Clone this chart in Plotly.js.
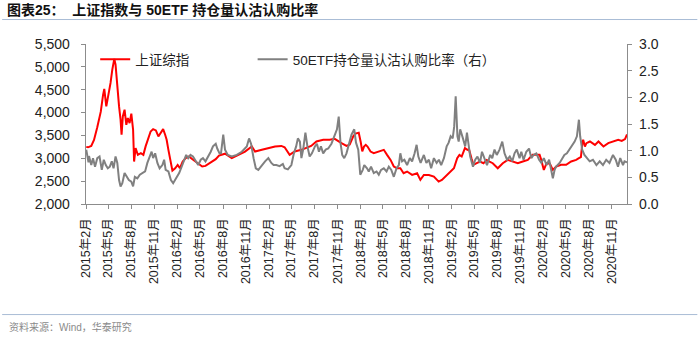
<!DOCTYPE html>
<html>
<head>
<meta charset="utf-8">
<script src="https://cdn.plot.ly/plotly-3.0.1.min.js"></script>
<style>html,body{margin:0;padding:0;background:#fff;}#chart{width:700px;height:338px;}</style>
</head>
<body>
<div id="chart"></div>
<script>
// 上证综指 (left axis)
const redDates = ["2015-02-02","2015-02-09","2015-02-22","2015-03-05","2015-03-18","2015-04-01","2015-04-10","2015-04-15","2015-04-23","2015-05-01","2015-05-10","2015-05-17","2015-05-25","2015-05-30","2015-06-06","2015-06-13","2015-06-19","2015-06-23","2015-06-28","2015-07-05","2015-07-12","2015-07-18","2015-07-25","2015-08-01","2015-08-08","2015-08-12","2015-08-18","2015-08-27","2015-09-08","2015-09-18","2015-09-27","2015-10-07","2015-10-17","2015-10-27","2015-11-07","2015-11-17","2015-11-27","2015-12-06","2015-12-14","2015-12-20","2015-12-27","2016-01-03","2016-01-12","2016-01-23","2016-02-02","2016-02-11","2016-02-22","2016-03-05","2016-03-18","2016-04-01","2016-04-14","2016-04-27","2016-05-10","2016-05-23","2016-06-07","2016-06-20","2016-07-03","2016-07-16","2016-08-09","2016-09-05","2016-10-01","2016-10-28","2016-11-24","2016-12-07","2017-01-03","2017-01-29","2017-02-25","2017-03-22","2017-04-04","2017-04-24","2017-05-14","2017-06-10","2017-06-30","2017-07-19","2017-08-09","2017-09-05","2017-10-01","2017-10-21","2017-11-17","2017-12-07","2017-12-20","2018-01-03","2018-01-12","2018-01-25","2018-02-02","2018-02-08","2018-02-15","2018-02-22","2018-03-01","2018-03-13","2018-03-26","2018-04-15","2018-05-05","2018-05-18","2018-06-01","2018-06-14","2018-06-27","2018-07-10","2018-07-23","2018-08-06","2018-08-26","2018-09-15","2018-09-28","2018-10-12","2018-11-01","2018-11-21","2018-12-10","2018-12-23","2019-01-13","2019-01-26","2019-02-09","2019-02-22","2019-03-03","2019-03-12","2019-03-25","2019-04-04","2019-04-10","2019-04-20","2019-04-28","2019-05-11","2019-05-24","2019-06-07","2019-06-20","2019-07-01","2019-07-14","2019-08-03","2019-08-23","2019-09-12","2019-10-02","2019-10-22","2019-11-11","2019-12-01","2019-12-20","2020-01-04","2020-01-17","2020-01-23","2020-02-03","2020-02-14","2020-02-27","2020-03-10","2020-03-23","2020-04-12","2020-05-02","2020-05-22","2020-06-11","2020-06-22","2020-06-30","2020-07-06","2020-07-09","2020-07-16","2020-07-22","2020-08-05","2020-08-25","2020-09-08","2020-09-28","2020-10-17","2020-11-07","2020-11-26","2020-12-10","2020-12-23","2020-12-31"];
const redValues = [3250,3240,3270,3400,3680,4020,4380,4516,4135,4355,4648,4940,5175,5050,4501,4135,3843,3514,3916,4062,3733,3880,3770,3975,3624,2929,3222,3075,3112,3075,3260,3440,3587,3638,3609,3477,3550,3638,3514,3404,3185,2965,2731,2782,2856,2782,2929,3002,3039,2980,2929,2878,2820,2834,2892,2929,2980,3060,3100,3002,3075,3148,3257,3148,3185,3221,3257,3270,3240,3075,3148,3185,3221,3270,3367,3404,3404,3426,3331,3270,3300,3480,3540,3560,3350,3150,3257,3294,3257,3148,3112,3148,3185,3075,2965,2820,2782,2782,2673,2710,2636,2673,2527,2636,2636,2600,2490,2527,2636,2710,2782,3002,3075,3039,3222,3185,3200,3002,2856,2892,2929,2892,2965,2929,2892,2782,2892,2965,2929,2892,2929,2965,3075,3075,3075,2976,2746,2892,2880,2746,2820,2856,2856,2929,2965,3002,3025,3350,3404,3257,3330,3367,3294,3367,3257,3331,3367,3404,3380,3420,3520];

// 50ETF持仓量认沽认购比率 (right axis)
const grayDates = ["2015-02-02","2015-02-06","2015-02-11","2015-02-13","2015-02-17","2015-02-22","2015-03-01","2015-03-09","2015-03-18","2015-03-27","2015-04-05","2015-04-13","2015-04-21","2015-04-29","2015-05-07","2015-05-15","2015-05-22","2015-05-30","2015-06-06","2015-06-13","2015-06-19","2015-06-26","2015-07-05","2015-07-13","2015-07-22","2015-08-01","2015-08-08","2015-08-15","2015-08-25","2015-09-04","2015-09-14","2015-09-25","2015-10-04","2015-10-13","2015-10-21","2015-10-27","2015-11-04","2015-11-13","2015-11-22","2015-12-03","2015-12-10","2015-12-16","2015-12-27","2016-01-06","2016-01-15","2016-01-26","2016-02-08","2016-02-18","2016-02-27","2016-03-07","2016-03-15","2016-03-24","2016-04-03","2016-04-14","2016-04-24","2016-05-04","2016-05-13","2016-05-23","2016-06-04","2016-06-13","2016-06-22","2016-07-03","2016-07-09","2016-07-18","2016-07-24","2016-08-02","2016-08-09","2016-08-20","2016-09-05","2016-09-25","2016-10-15","2016-11-04","2016-11-13","2016-11-21","2016-12-01","2016-12-10","2016-12-20","2017-01-03","2017-01-16","2017-01-29","2017-02-10","2017-02-19","2017-03-02","2017-03-15","2017-03-28","2017-04-04","2017-04-17","2017-05-01","2017-05-11","2017-05-20","2017-05-27","2017-06-04","2017-06-10","2017-06-17","2017-06-26","2017-07-04","2017-07-13","2017-07-22","2017-08-03","2017-08-11","2017-08-19","2017-08-27","2017-09-05","2017-09-15","2017-09-25","2017-10-08","2017-10-21","2017-10-30","2017-11-06","2017-11-13","2017-11-20","2017-11-28","2017-12-07","2017-12-16","2017-12-27","2018-01-07","2018-01-14","2018-01-23","2018-01-31","2018-02-10","2018-02-16","2018-02-27","2018-03-06","2018-03-15","2018-03-26","2018-04-06","2018-04-15","2018-04-24","2018-05-05","2018-05-16","2018-05-25","2018-06-04","2018-06-14","2018-06-25","2018-07-04","2018-07-10","2018-07-17","2018-07-26","2018-08-06","2018-08-17","2018-08-26","2018-09-05","2018-09-13","2018-09-20","2018-09-29","2018-10-12","2018-10-22","2018-11-01","2018-11-10","2018-11-21","2018-12-02","2018-12-11","2018-12-20","2018-12-31","2019-01-11","2019-01-19","2019-01-27","2019-02-04","2019-02-10","2019-02-16","2019-02-23","2019-02-28","2019-03-06","2019-03-17","2019-03-26","2019-04-02","2019-04-09","2019-04-15","2019-04-26","2019-05-05","2019-05-14","2019-05-24","2019-06-01","2019-06-10","2019-06-21","2019-07-04","2019-07-12","2019-07-21","2019-07-30","2019-08-10","2019-08-21","2019-08-30","2019-09-09","2019-09-20","2019-09-30","2019-10-09","2019-10-18","2019-10-29","2019-11-05","2019-11-14","2019-11-25","2019-12-06","2019-12-15","2019-12-24","2020-01-04","2020-01-15","2020-01-24","2020-02-03","2020-02-14","2020-02-24","2020-03-03","2020-03-10","2020-03-17","2020-03-23","2020-04-06","2020-04-16","2020-04-25","2020-05-05","2020-05-15","2020-05-26","2020-06-05","2020-06-14","2020-06-22","2020-06-27","2020-07-05","2020-07-14","2020-07-24","2020-08-04","2020-08-17","2020-08-31","2020-09-13","2020-09-26","2020-10-09","2020-10-22","2020-11-05","2020-11-16","2020-11-25","2020-12-04","2020-12-15","2020-12-21","2020-12-31"];
const grayValues = [1.02,0.92,0.78,0.90,0.83,0.73,0.86,0.70,0.86,0.89,0.64,0.83,0.73,0.67,0.70,0.80,0.67,0.89,0.77,0.45,0.33,0.39,0.58,0.51,0.45,0.42,0.33,0.51,0.48,0.55,0.58,0.61,0.77,0.89,0.98,0.86,0.95,0.77,0.67,0.73,0.83,0.64,0.61,0.45,0.39,0.48,0.58,0.70,0.80,0.92,0.86,0.92,0.89,0.80,0.73,0.83,0.86,0.80,0.89,0.98,1.08,1.13,1.04,0.95,0.95,1.30,1.02,0.92,0.89,0.92,0.98,1.08,1.23,1.13,0.86,0.67,0.64,0.73,0.80,0.86,0.77,0.73,0.73,0.71,0.75,0.67,0.65,0.73,0.95,1.08,1.23,1.17,0.86,1.02,1.34,1.08,0.89,0.95,1.08,1.13,0.98,1.08,0.95,1.02,1.04,1.13,1.27,1.40,1.64,1.15,0.92,0.86,0.95,1.13,1.30,1.40,1.15,1.02,0.55,0.64,0.73,0.67,0.61,0.70,0.58,0.61,0.55,0.64,0.67,0.61,0.70,0.64,0.51,0.67,0.73,0.95,0.80,0.83,0.73,0.86,0.80,0.95,1.11,0.89,0.77,0.92,0.77,0.83,0.67,0.86,0.77,0.83,0.73,0.86,1.08,1.15,1.27,1.23,1.45,2.02,1.27,1.17,1.40,1.23,1.08,1.34,1.13,0.89,0.70,0.83,0.89,0.77,0.98,0.86,0.73,0.92,0.86,1.02,0.92,1.02,1.17,0.95,0.83,0.89,0.80,0.95,1.02,0.86,0.98,0.83,0.98,1.04,0.86,0.92,0.95,0.83,0.77,0.86,0.73,0.83,0.64,0.48,0.64,0.70,0.77,0.86,0.92,0.95,1.02,1.11,1.17,1.27,1.58,1.27,1.02,0.92,0.86,0.80,0.83,0.73,0.80,0.73,0.83,0.77,0.92,0.83,0.70,0.86,0.73,0.80,0.78];

const tickDates = ["2015-02-01","2015-05-01","2015-08-01","2015-11-01","2016-02-01","2016-05-01","2016-08-01","2016-11-01","2017-02-01","2017-05-01","2017-08-01","2017-11-01","2018-02-01","2018-05-01","2018-08-01","2018-11-01","2019-02-01","2019-05-01","2019-08-01","2019-11-01","2020-02-01","2020-05-01","2020-08-01","2020-11-01"];
const tickLabels = ["2015年2月","2015年5月","2015年8月","2015年11月","2016年2月","2016年5月","2016年8月","2016年11月","2017年2月","2017年5月","2017年8月","2017年11月","2018年2月","2018年5月","2018年8月","2018年11月","2019年2月","2019年5月","2019年8月","2019年11月","2020年2月","2020年5月","2020年8月","2020年11月"];

const seriesNames = ["上证综指", "50ETF持仓量认沽认购比率（右）"];
const titleText = "<b>图表25：  上证指数与 50ETF 持仓量认沽认购比率</b>";
const sourceText = "资料来源：Wind，华泰研究";

const FONT = "'Liberation Sans', Arial, 'Noto Sans CJK SC', sans-serif";
const AXC = "#8c8c8c";
const legendFont = {family: FONT, size: 13.5, color: "#222"};

const traces = [
  {x: redDates, y: redValues, name: seriesNames[0], type: "scatter", mode: "lines",
   line: {color: "#ff0000", width: 2}, yaxis: "y", legend: "legend"},
  {x: grayDates, y: grayValues, name: seriesNames[1], type: "scatter", mode: "lines",
   line: {color: "#808080", width: 2}, yaxis: "y2", legend: "legend2"}
];

const layout = {
  width: 700, height: 338,
  margin: {l: 86, r: 73, t: 44, b: 134, pad: 0},
  paper_bgcolor: "#fff", plot_bgcolor: "#fff",
  font: {family: FONT, color: "#222"},
  title: {text: titleText, font: {family: FONT, size: 14, color: "#111"},
          xref: "container", yref: "container", x: 0.01, xanchor: "left", y: 0.97, yanchor: "middle"},
  showlegend: true,
  legend: {orientation: "h", x: 0.017, xanchor: "left", y: 1.0, yanchor: "top",
           font: legendFont, bgcolor: "rgba(0,0,0,0)"},
  legend2: {orientation: "h", x: 0.308, xanchor: "left", y: 1.0, yanchor: "top",
           font: legendFont, bgcolor: "rgba(0,0,0,0)"},
  xaxis: {type: "date", range: ["2015-02-01", "2020-12-31"], tickmode: "array",
          tickvals: tickDates, ticktext: tickLabels, tickangle: -90,
          ticks: "outside", ticklen: 4, tickcolor: AXC, tickwidth: 1,
          showline: true, linecolor: AXC, linewidth: 1.3, showgrid: false, zeroline: false,
          tickfont: {family: FONT, size: 12.5, color: "#222"}, ticklabelstandoff: 4},
  yaxis: {range: [2000, 5500], dtick: 500, tickformat: ",", ticks: "outside", ticklen: 4,
          tickcolor: AXC, showline: true, linecolor: AXC, linewidth: 1.3, showgrid: false, zeroline: false,
          tickfont: {family: FONT, size: 14, color: "#222"}, ticklabelstandoff: 8},
  yaxis2: {range: [0, 3], dtick: 0.5, tickformat: ".1f", overlaying: "y", side: "right",
           ticks: "outside", ticklen: 4, tickcolor: AXC, showline: true, linecolor: AXC, linewidth: 1.3,
           showgrid: false, zeroline: false,
           tickfont: {family: FONT, size: 14, color: "#222"}, ticklabelstandoff: 4},
  shapes: [
    {type: "line", xref: "paper", yref: "paper", x0: -0.155, x1: 1.13, y0: 1.153, y1: 1.153,
     line: {color: "#a9bcd6", width: 1}},
    {type: "line", xref: "paper", yref: "paper", x0: -0.155, x1: 1.13, y0: -0.691, y1: -0.691,
     line: {color: "#a9bcd6", width: 1}}
  ],
  annotations: [
    {text: sourceText, xref: "paper", yref: "paper", x: -0.146, y: -0.769, xanchor: "left", yanchor: "middle",
     showarrow: false, font: {family: FONT, size: 10, color: "#8a8a8a"}}
  ]
};

Plotly.newPlot("chart", traces, layout, {displayModeBar: false, staticPlot: true});
</script>
</body>
</html>
